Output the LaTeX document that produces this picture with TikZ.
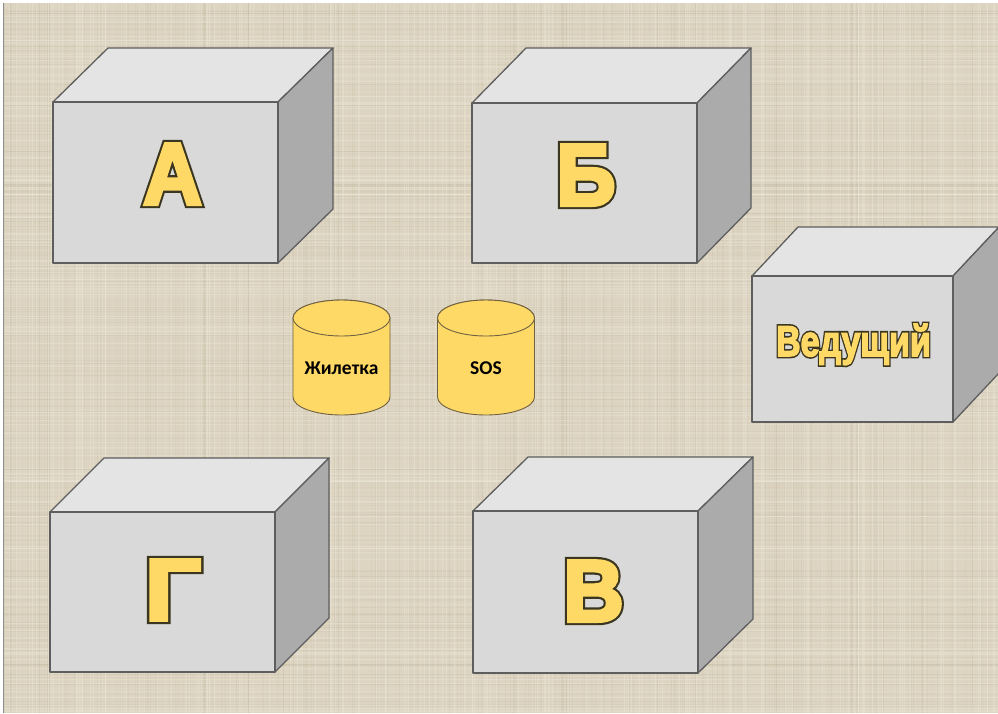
\documentclass[tikz,border=0pt]{standalone}
\usepackage{fontspec}
\setmainfont{Liberation Sans}
\newfontfamily\drumfont{Carlito}
\newfontface\letterink[FakeBold=9.7]{Liberation Sans Bold}
\newfontface\lettergold[FakeBold=4.6]{Liberation Sans Bold}
\newfontface\hostink[FakeBold=11]{Liberation Sans Bold}
\newfontface\hostgold[FakeBold=3.6]{Liberation Sans Bold}
\usepackage{graphicx}
\usetikzlibrary{calc}
\definecolor{rlinen}{HTML}{DDD5C2}
\definecolor{rweave}{HTML}{B3A78C}
\definecolor{rthread}{HTML}{EEE8DA}
\definecolor{rfront}{HTML}{D9D9D9}
\definecolor{rtop}{HTML}{E4E4E4}
\definecolor{rside}{HTML}{ABABAB}
\definecolor{redge}{HTML}{5E5E5E}
\definecolor{rgold}{HTML}{FFD966}
\definecolor{rink}{HTML}{3B361F}
\definecolor{rdrumedge}{HTML}{6E6040}

% crate: name, front top-left x, y, width, height, depth dx, dy
\newcommand{\crate}[7]{%
  \coordinate (#1-a) at (#2,#3);
  \coordinate (#1-b) at ($ (#1-a) + (#4,0) $);
  \coordinate (#1-c) at ($ (#1-b) + (0,#5) $);
  \coordinate (#1-d) at ($ (#1-a) + (0,#5) $);
  \coordinate (#1-e) at ($ (#1-a) + (#6,-#7) $);
  \coordinate (#1-f) at ($ (#1-b) + (#6,-#7) $);
  \coordinate (#1-g) at ($ (#1-c) + (#6,-#7) $);
  \filldraw[cratetop] (#1-a) -- (#1-e) -- (#1-f) -- (#1-b) -- cycle;
  \filldraw[crateside] (#1-b) -- (#1-f) -- (#1-g) -- (#1-c) -- cycle;
  \filldraw[cratefront] (#1-a) rectangle (#1-c);
}
% heavy dark glyph under a lighter gold one = outlined letter
\newcommand{\inked}[3]{\special{pdf:code 0 j 2 M}\rlap{\color{rink}#1#3}#2#3}

\begin{document}
\begin{tikzpicture}[x=1pt, y=-1pt,
    cratefront/.style={fill=rfront, draw=redge, line width=1.3pt, line join=round},
    cratetop/.style={fill=rtop, draw=redge, line width=1.3pt, line join=round},
    crateside/.style={fill=rside, draw=redge, line width=1.3pt, line join=round},
    letter/.style={anchor=base, inner sep=0pt, text=rgold,
      font=\fontsize{87}{87}\selectfont},
    drum/.style={fill=rgold, draw=rdrumedge, line width=0.9pt},
    drumlabel/.style={inner sep=0pt, font=\drumfont\bfseries\fontsize{19.5}{19.5}\selectfont}]
  \useasboundingbox (0,0) rectangle (998,713);

  % linen backdrop
  \fill[white] (0,0) rectangle (998,713);
  \fill[rlinen] (3,3) rectangle (998,713);
  \pgfmathsetseed{11}
  \foreach \i in {1,...,330} {
    \pgfmathsetmacro{\xx}{4+rnd*993}
    \pgfmathsetmacro{\op}{0.04+0.10*rnd}
    \draw[rweave, opacity=\op, line width=0.7pt] (\xx,3) -- (\xx,713);
  }
  \foreach \i in {1,...,260} {
    \pgfmathsetmacro{\yy}{4+rnd*708}
    \pgfmathsetmacro{\op}{0.04+0.10*rnd}
    \draw[rweave, opacity=\op, line width=0.7pt] (3,\yy) -- (998,\yy);
  }
  \foreach \i in {1,...,160} {
    \pgfmathsetmacro{\xx}{4+rnd*993}
    \pgfmathsetmacro{\yy}{4+rnd*708}
    \draw[rthread, opacity=0.35, line width=0.8pt] (\xx,3) -- (\xx,713);
    \draw[rthread, opacity=0.35, line width=0.8pt] (3,\yy) -- (998,\yy);
  }
  \draw[redge!70, line width=1pt] (3.5,3) -- (3.5,713);

  % crates
  \crate{ca}{53}{102}{225}{161}{55}{54}
  \crate{cb}{472}{103}{225}{160}{54}{55}
  \crate{cg}{50}{512}{225}{160}{54}{54}
  \crate{cv}{473}{511}{225}{162}{55}{54}
  \crate{cl}{752}{276}{201}{146}{46}{49}

  \node[letter] (la) at (172.5,204) {\scalebox{0.93}[1]{\inked{\letterink}{\lettergold}{А}}};
  \node[letter] (lb) at (586,205) {\scalebox{0.945}[1]{\inked{\letterink}{\lettergold}{Б}}};
  \node[letter] (lg) at (173,620) {\scalebox{1.13}[1]{\inked{\letterink}{\lettergold}{Г}}};
  \node[letter] (lv) at (593.5,621) {\scalebox{0.96}[1]{\inked{\letterink}{\lettergold}{В}}};
  \node[letter, font=\fontsize{43}{43}\selectfont] (lhost) at (853.5,356)
    {\scalebox{0.79}[1]{\inked{\hostink}{\hostgold}{Ведущий}}};

  % drums
  \foreach \name/\cx in {vest/341.5, sos/486} {
    \filldraw[drum] ($ (\cx,318) + (-48.5,0) $) -- ($ (\cx,397) + (-48.5,0) $)
      arc[start angle=180, end angle=0, x radius=48.5, y radius=18]
      -- ($ (\cx,318) + (48.5,0) $)
      arc[start angle=0, end angle=-180, x radius=48.5, y radius=18] -- cycle;
    \draw[drum] (\cx,318) ellipse[x radius=48.5, y radius=18];
    \coordinate (\name) at (\cx,368);
  }
  \node[drumlabel] (tvest) at (vest) {Жилетка};
  \node[drumlabel] (tsos) at (sos) {SOS};
\end{tikzpicture}
\end{document}
